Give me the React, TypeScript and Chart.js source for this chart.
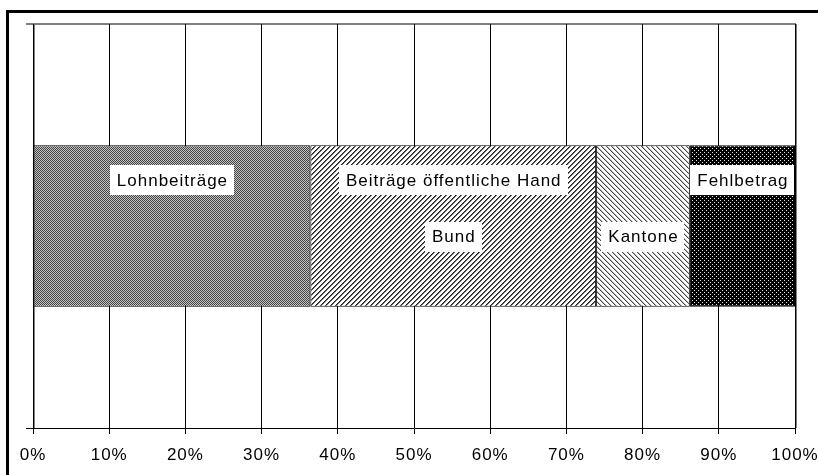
import React, { useEffect, useRef } from "react";
import { Chart, registerables } from "chart.js";

Chart.register(...registerables);

const categories = [""];
const seriesNames = ["Lohnbeiträge", "Bund", "Kantone", "Fehlbetrag"];
const lohnbeitraege = [36.4];
const bund = [37.5];
const kantone = [12.3];
const fehlbetrag = [13.8];
const upperLabels = ["Lohnbeiträge", "Beiträge öffentliche Hand", "", "Fehlbetrag"];
const lowerLabels = ["", "Bund", "Kantone", ""];
const axisMin = 0;
const axisMax = 100;
const axisStep = 10;

const FONT = '"Liberation Sans", Arial, sans-serif';
const SPACING = "1px";

function makePattern(w: number, h: number, fn: (x: number, y: number) => string | null): CanvasPattern | string {
  const c = document.createElement("canvas");
  c.width = w;
  c.height = h;
  const g = c.getContext("2d");
  if (!g) return "#888";
  g.fillStyle = "#fff";
  g.fillRect(0, 0, w, h);
  for (let y = 0; y < h; y++) {
    for (let x = 0; x < w; x++) {
      const col = fn(x, y);
      if (col) {
        g.fillStyle = col;
        g.fillRect(x, y, 1, 1);
      }
    }
  }
  const p = g.createPattern(c, "repeat");
  return p || "#888";
}

export default function App() {
  const ref = useRef<HTMLCanvasElement | null>(null);

  useEffect(() => {
    const canvas = ref.current;
    if (!canvas) return;

    const checker = makePattern(2, 2, (x, y) => ((x + y) % 2 === 0 ? "#444" : "#c4c4c4"));
    const rising = makePattern(5, 5, (x, y) => {
      const m = (x + y) % 5;
      return m === 0 ? "#222" : m === 1 ? "#666" : null;
    });
    const falling = makePattern(5, 5, (x, y) => {
      const m = (x - y + 50) % 5;
      return m === 0 ? "#444" : m === 1 ? "#bbb" : null;
    });
    const dots = makePattern(4, 4, (x, y) =>
      (x === 0 && y === 0) || (x === 2 && y === 2) ? "#e8e8e8" : "#000"
    );
    const fills = [checker, rising, falling, dots];
    const values = [lohnbeitraege, bund, kantone, fehlbetrag];

    const decor = {
      id: "decor",
      beforeUpdate(chart: any) {
        (chart.ctx as any).letterSpacing = "0px";
      },
      beforeDraw(chart: any) {
        const ctx = chart.ctx;
        (ctx as any).letterSpacing = SPACING;
        const a = chart.chartArea;
        ctx.save();
        ctx.fillStyle = "#fff";
        ctx.fillRect(0, 0, chart.width, chart.height);
        ctx.strokeStyle = "#808080";
        ctx.lineWidth = 2;
        ctx.beginPath();
        ctx.moveTo(a.left - 7, a.top);
        ctx.lineTo(a.right + 1, a.top);
        ctx.stroke();
        ctx.lineWidth = 1;
        ctx.beginPath();
        ctx.moveTo(a.right + 1.5, a.top);
        ctx.lineTo(a.right + 1.5, a.bottom);
        ctx.moveTo(a.left + 1.5, a.top);
        ctx.lineTo(a.left + 1.5, a.bottom);
        ctx.stroke();
        ctx.restore();
      },
      afterDatasetsDraw(chart: any) {
        const ctx = chart.ctx;
        ctx.save();
        (ctx as any).letterSpacing = SPACING;
        ctx.font = `17px ${FONT}`;
        ctx.textAlign = "center";
        ctx.textBaseline = "middle";
        chart.data.datasets.forEach((ds: any, i: number) => {
          const meta = chart.getDatasetMeta(i);
          const bar: any = meta.data[0];
          if (!bar) return;
          const left = Math.min(bar.x, bar.base);
          const right = Math.max(bar.x, bar.base);
          const top = bar.y - bar.height / 2;
          const cx = (left + right) / 2;
          const rows = [
            { text: upperLabels[i], y: top + bar.height * 0.216 },
            { text: lowerLabels[i], y: top + bar.height * 0.565 },
          ];
          rows.forEach((r) => {
            if (!r.text) return;
            const w = ctx.measureText(r.text).width;
            const bw = w + 13;
            const bh = 30;
            ctx.fillStyle = "#fff";
            ctx.fillRect(Math.round(cx - bw / 2), Math.round(r.y - bh / 2), Math.round(bw), bh);
            ctx.fillStyle = "#000";
            ctx.fillText(r.text, cx + 0.5, r.y + 1);
          });
        });
        ctx.restore();
      },
      afterDraw(chart: any) {
        const ctx = chart.ctx;
        const a = chart.chartArea;
        ctx.save();
        ctx.strokeStyle = "#000";
        ctx.lineWidth = 1;
        ctx.beginPath();
        ctx.moveTo(a.left - 7, Math.round(a.bottom) + 0.5);
        ctx.lineTo(a.left, Math.round(a.bottom) + 0.5);
        ctx.stroke();
        ctx.fillStyle = "#000";
        ctx.fillRect(6, 10, chart.width - 6, 3);
        ctx.fillRect(6, 10, 3, chart.height - 10);
        ctx.restore();
      },
    };

    const chart = new Chart(canvas, {
      type: "bar",
      data: {
        labels: categories,
        datasets: seriesNames.map((name, i) => ({
          label: name,
          data: values[i],
          backgroundColor: fills[i] as any,
          borderColor: "#000",
          borderWidth: 1,
          borderSkipped: false,
          barPercentage: 0.4,
          categoryPercentage: 1,
        })),
      },
      options: {
        indexAxis: "y",
        responsive: false,
        animation: false,
        devicePixelRatio: 1,
        layout: { padding: { left: 33, right: 23, top: 24, bottom: 0 } },
        plugins: {
          legend: { display: false },
          tooltip: { enabled: false },
        },
        scales: {
          x: {
            type: "linear",
            stacked: true,
            min: axisMin,
            max: axisMax,
            afterFit: (s: any) => {
              s.height = 47;
              s.paddingLeft = 0;
              s.paddingRight = 0;
            },
            ticks: {
              stepSize: axisStep,
              color: "#000",
              font: { family: FONT, size: 17 },
              padding: 11,
              maxRotation: 0,
              callback: (v: any) => `${v}%`,
            },
            grid: {
              color: "#000",
              lineWidth: 1,
              drawTicks: true,
              tickLength: 6,
            },
            border: { display: true, color: "#000", width: 1 },
          },
          y: {
            type: "category",
            stacked: true,
            display: false,
          },
        },
      },
      plugins: [decor],
    });

    return () => {
      chart.destroy();
    };
  }, []);

  return (
    <div style={{ position: "fixed", left: 0, top: 0, width: 818, height: 475, background: "#fff" }}>
      <canvas ref={ref} width={818} height={475} style={{ width: 818, height: 475, display: "block" }} />
    </div>
  );
}
